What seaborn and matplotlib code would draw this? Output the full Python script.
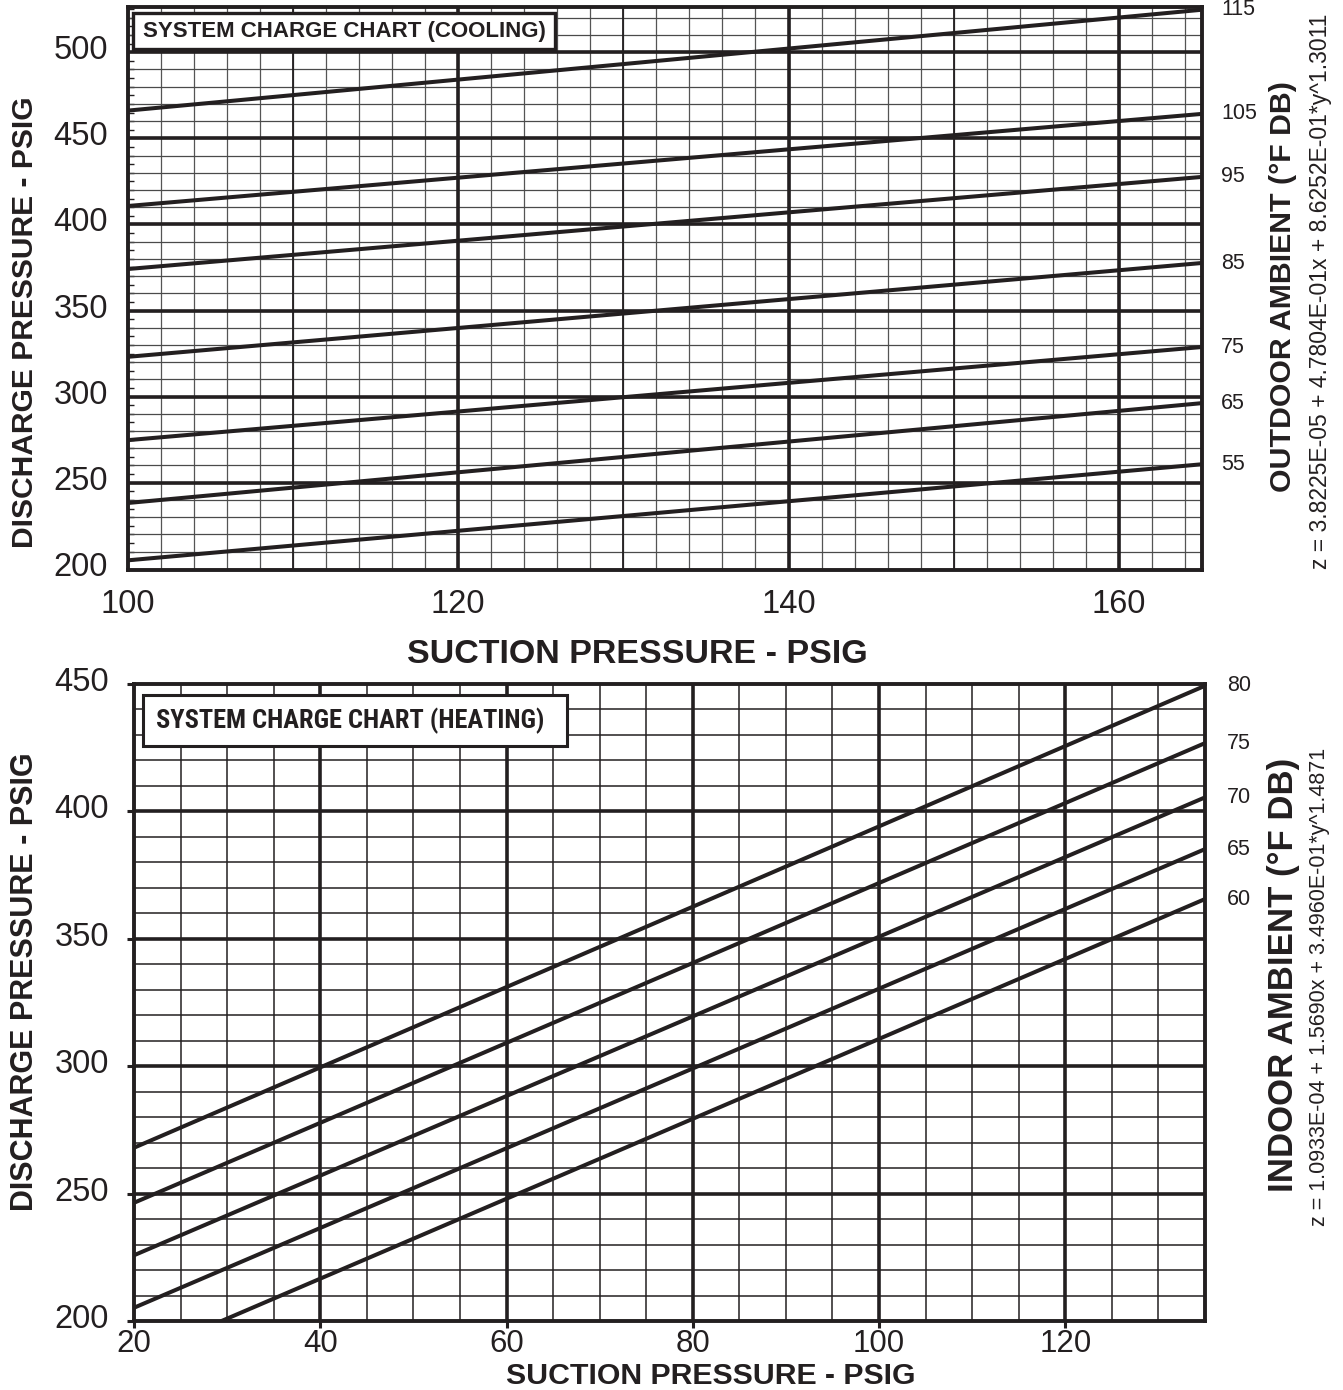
import numpy as np
import pandas as pd
import matplotlib
matplotlib.use('Agg')
import matplotlib.pyplot as plt
from matplotlib.patches import Rectangle
from matplotlib.ticker import MultipleLocator
from matplotlib.transforms import ScaledTranslation
from matplotlib import font_manager
import seaborn as sns

# ---- cooling chart, values ----
cool_ambient = [55, 65, 75, 85, 95, 105, 115]
cool_suction_lo = [100, 100, 100, 100, 100, 100, 100]
cool_suction_hi = [165, 165, 165, 165, 165, 165, 165]
cool_discharge_lo = [204.9, 238.2, 274.7, 323.1, 374.1, 410.7, 466.1]
cool_discharge_hi = [260.7, 296.2, 328.8, 377.6, 427.6, 464.2, 524.7]
cool_xticks = [100, 120, 140, 160]
cool_yticks = [200, 250, 300, 350, 400, 450, 500]
cool_formula = 'z = 3.8225E-05 + 4.7804E-01x + 8.6252E-01*y^1.3011'

# ---- heating chart ----
heat_ambient = [60, 65, 70, 75, 80]
heat_suction_lo = [29.4, 20, 20, 20, 20]
heat_suction_hi = [135, 135, 135, 135, 135]
heat_discharge_lo = [200.0, 205.2, 225.8, 246.4, 268.0]
heat_discharge_hi = [365.6, 385.2, 405.5, 426.8, 449.3]
heat_xticks = [20, 40, 60, 80, 100, 120]
heat_yticks = [200, 250, 300, 350, 400, 450]
heat_formula = 'z = 1.0933E-04 + 1.5690x + 3.4960E-01*y^1.4871'

INK = '#231f20'
W, H = 1343, 1390


def fx(px):
    return px / W


def fy(py):
    return 1 - py / H


def to_long(ambient, x_lo, x_hi, y_lo, y_hi):
    rows = []
    for a, x0, x1, y0, y1 in zip(ambient, x_lo, x_hi, y_lo, y_hi):
        rows.append((a, x0, y0))
        rows.append((a, x1, y1))
    return pd.DataFrame(rows, columns=['ambient', 'suction', 'discharge'])


sns.set_style('white')
plt.rcParams['font.family'] = ['Liberation Sans', 'DejaVu Sans']
plt.rcParams['text.color'] = INK

# the heating title uses a condensed face in the reference, if one is around
names = {f.name for f in font_manager.fontManager.ttflist}
narrow = None
for cand in ['Liberation Sans Narrow', 'Roboto Condensed', 'Open Sans Condensed']:
    if cand in names:
        narrow = cand
        break

fig = plt.figure(figsize=(W / 100, H / 100), dpi=100)
ax1 = fig.add_axes([fx(127.5), fy(570), fx(1201.7) - fx(127.5), fy(7) - fy(570)])
ax2 = fig.add_axes([fx(134), fy(1321), fx(1205) - fx(134), fy(684) - fy(1321)])

# ---------------- cooling ----------------
ax1.set_xlim(100, 165)
ax1.set_ylim(199.3, 526.3)
for x in np.arange(100, 166, 2):
    ax1.axvline(x, color='#555555', lw=0.9, zorder=1)
for x in [110, 130, 150]:
    ax1.axvline(x, color=INK, lw=1.3, zorder=1.5)
for x in [120, 140, 160]:
    ax1.axvline(x, color=INK, lw=2.6, zorder=2)
for y in np.arange(200, 530, 10):
    ax1.axhline(y, color='#4a4a4a', lw=0.9, zorder=1)
for y in [250, 300, 350, 400, 450, 500]:
    ax1.axhline(y, color=INK, lw=2.6, zorder=2)

cool_df = to_long(cool_ambient, cool_suction_lo, cool_suction_hi,
                  cool_discharge_lo, cool_discharge_hi)
sns.lineplot(data=cool_df, x='suction', y='discharge', units='ambient',
             estimator=None, sort=False, color=INK, lw=2.9, legend=False,
             ax=ax1, zorder=5)

ax1.set_xticks(cool_xticks)
ax1.set_yticks(cool_yticks)
ax1.yaxis.set_minor_locator(MultipleLocator(5))
ax1.tick_params(axis='both', which='major', length=0, labelsize=23.5,
                pad=14, labelcolor=INK)
ax1.tick_params(axis='y', which='minor', direction='in', length=4.5,
                width=1.0, color=INK, left=True)
ax1.set_xlabel('')
ax1.set_ylabel('')

for a, v in zip(cool_ambient, cool_discharge_hi):
    ax1.annotate(str(a), xy=(165, v), xytext=(14, 0), textcoords='offset points',
                 ha='left', va='center', fontsize=15.5, color=INK,
                 annotation_clip=False)

fig.add_artist(Rectangle((fx(133), fy(49)), fx(555) - fx(133), fy(13) - fy(49),
                         transform=fig.transFigure, fc='white', ec=INK, lw=2.4,
                         zorder=10))
fig.text(fx(143), fy(31), 'SYSTEM CHARGE CHART (COOLING)', ha='left',
         va='center', fontsize=16, fontweight='bold', zorder=11)

fig.text(fx(25), fy(322), 'DISCHARGE PRESSURE - PSIG', rotation=90,
         ha='center', va='center', fontsize=21.6, fontweight='bold')
fig.text(fx(637), fy(655), 'SUCTION PRESSURE - PSIG', ha='center',
         va='center', fontsize=24.5, fontweight='bold')
fig.text(fx(1283), fy(287), 'OUTDOOR AMBIENT (°F DB)', rotation=90,
         ha='center', va='center', fontsize=21.8, fontweight='bold')
fig.text(fx(1320), fy(291), cool_formula, rotation=90, ha='center',
         va='center', fontsize=16.5)

# ---------------- heating ----------------
ax2.set_xlim(20, 135)
ax2.set_ylim(200, 450)
for x in np.arange(20, 136, 5):
    ax2.axvline(x, color=INK, lw=1.1, zorder=1)
for x in [40, 60, 80, 100, 120]:
    ax2.axvline(x, color=INK, lw=2.6, zorder=2)
for y in np.arange(200, 451, 10):
    ax2.axhline(y, color=INK, lw=1.1, zorder=1)
for y in [250, 300, 350, 400]:
    ax2.axhline(y, color=INK, lw=2.6, zorder=2)

heat_df = to_long(heat_ambient, heat_suction_lo, heat_suction_hi,
                  heat_discharge_lo, heat_discharge_hi)
sns.lineplot(data=heat_df, x='suction', y='discharge', units='ambient',
             estimator=None, sort=False, color=INK, lw=2.9, legend=False,
             ax=ax2, zorder=5)

ax2.set_xticks(heat_xticks)
ax2.set_yticks(heat_yticks)
ax2.tick_params(axis='both', which='major', length=5, width=2.2, color=INK,
                labelsize=23.5, labelcolor=INK, direction='out',
                left=True, bottom=True)
ax2.tick_params(axis='y', pad=13)
ax2.tick_params(axis='x', pad=1, labelsize=22.5)
ax2.set_xlabel('')
ax2.set_ylabel('')

for a, v in zip(heat_ambient, heat_discharge_hi):
    ax2.annotate(str(a), xy=(135, v), xytext=(16, 0), textcoords='offset points',
                 ha='left', va='center', fontsize=15.5, color=INK,
                 annotation_clip=False)

fig.add_artist(Rectangle((fx(143), fy(746)), fx(567) - fx(143), fy(695) - fy(746),
                         transform=fig.transFigure, fc='white', ec=INK, lw=2.2,
                         zorder=10))
if narrow:
    fig.text(fx(156), fy(721), 'SYSTEM CHARGE CHART (HEATING)', ha='left',
             va='center', fontsize=19, fontweight='bold',
             family=[narrow, 'DejaVu Sans'], zorder=11)
else:
    fig.text(fx(156), fy(721), 'SYSTEM CHARGE CHART (HEATING)', ha='left',
             va='center', fontsize=16, fontweight='bold', zorder=11)

fig.text(fx(25), fy(982), 'DISCHARGE PRESSURE - PSIG', rotation=90,
         ha='center', va='center', fontsize=22, fontweight='bold')
fig.text(fx(711), fy(1383.5), 'SUCTION PRESSURE - PSIG', ha='center',
         va='baseline', fontsize=21.8, fontweight='bold')
fig.text(fx(1283), fy(975), 'INDOOR AMBIENT (°F DB)', rotation=90,
         ha='center', va='center', fontsize=25, fontweight='bold')
fig.text(fx(1320), fy(987), heat_formula, rotation=90, ha='center',
         va='center', fontsize=15.5)

# tick numbers on the y axes sit a little above their grid lines
lift = ScaledTranslation(0, 5 / 100, fig.dpi_scale_trans)
for ax in (ax1, ax2):
    for lab in ax.get_yticklabels():
        lab.set_transform(lab.get_transform() + lift)
    for s in ax.spines.values():
        s.set_linewidth(2.8)
        s.set_color(INK)
        s.set_zorder(6)

fig.savefig('out.png', dpi=100)
